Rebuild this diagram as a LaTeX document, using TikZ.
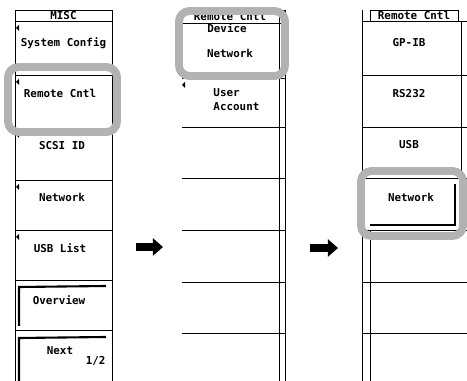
\documentclass[tikz,border=0pt]{standalone}
\usepackage{fontspec}
\usepackage{tikz}
\usetikzlibrary{arrows.meta}
\newfontfamily\lcdfont{DejaVu Sans Mono}
\newcommand{\mnfontsize}{6.2}
\definecolor{hilite}{gray}{0.70}
\definecolor{shade}{gray}{0.5}

\begin{document}
\begin{tikzpicture}[x=0.02cm,y=-0.02cm,line width=0.55pt]
			\useasboundingbox (0,0) rectangle (467,381);
			\tikzstyle{every node}=[font=\lcdfont\bfseries\fontsize{\mnfontsize}{8}\selectfont,inner sep=0pt]
			\tikzstyle{bevel}=[line width=1.2pt]
			\tikzstyle{ring}=[hilite,line width=4.5pt,rounded corners=6pt]
			\tikzstyle{bigarrow}=[line width=4pt,-{Triangle[length=5.7pt,width=9.6pt]}]
			% MISC menu
			\draw (15,10) rectangle (112,381);
			\foreach \y in {21,75,128,180,230,280,330}
				\draw (15,\y) -- (112,\y);
			\foreach \y in {21,75,128,180,230}
				\fill (19,\y+4) -- (16,\y+7) -- (19,\y+10) -- cycle;
			\draw[bevel] (19,326) -- (19,287) -- (106,286);
			\draw[bevel] (19,381) -- (19,338) -- (106,337);
			\node (M_0) at (63.5,15.5) {MISC};
			\node (M_1) at (63.5,43) {System Config};
			\node (M_2) at (60,93) {Remote Cntl};
			\node (M_3) at (62,146) {SCSI ID};
			\node (M_4) at (62,197) {Network};
			\node (M_5) at (60,248) {USB List};
			\node (M_6) at (59,300) {Overview};
			\node (M_7) at (60,351) {Next};
			\node[anchor=east] (M_8) at (106,361) {1/2};
			% Remote Cntl menu
			\foreach \y in {23,78,127,178,230,282,333}
				\draw (182,\y) -- (285,\y);
			\draw[shade] (279,10) -- (279,381);
			\draw (279,10) -- (285,10) -- (285,381);
			\fill (185,82) -- (182,85) -- (185,88) -- cycle;
			\node (R_0) at (230,16) {Remote Cntl};
			\node (R_1) at (227,28) {Device};
			\node (R_2) at (230,53) {Network};
			\node[align=left,anchor=west] (R_3) at (213,100) {User\\Account};
			% Device menu
			\draw (362,10) -- (362,381);
			\draw (370,10) rectangle (458,21);
			\foreach \y in {21,75,127,178,230,282,333}
				\draw (362,\y) -- (467,\y);
			\draw (461,21) -- (461,178);
			\draw (370,230) -- (370,381);
			\draw[bevel] (370,225) -- (455,225) -- (455,184);
			\node (D_0) at (414,15.5) {Remote Cntl};
			\node (D_1) at (409,43) {GP-IB};
			\node (D_2) at (409,94) {RS232};
			\node (D_3) at (409,145) {USB};
			\node (D_4) at (411,197) {Network};
			% highlights
			\draw[ring] (8,67) rectangle (117,132);
			\draw[ring] (179,11) rectangle (285,76);
			\draw[ring] (361,171) rectangle (463,236);
			% arrows
			\coordinate (A_1) at (136,247);
			\coordinate (A_2) at (163,247);
			\coordinate (A_3) at (310,248);
			\coordinate (A_4) at (338,248);
			\draw[bigarrow] (A_1) -- (A_2);
			\draw[bigarrow] (A_3) -- (A_4);
		\end{tikzpicture}
\end{document}
